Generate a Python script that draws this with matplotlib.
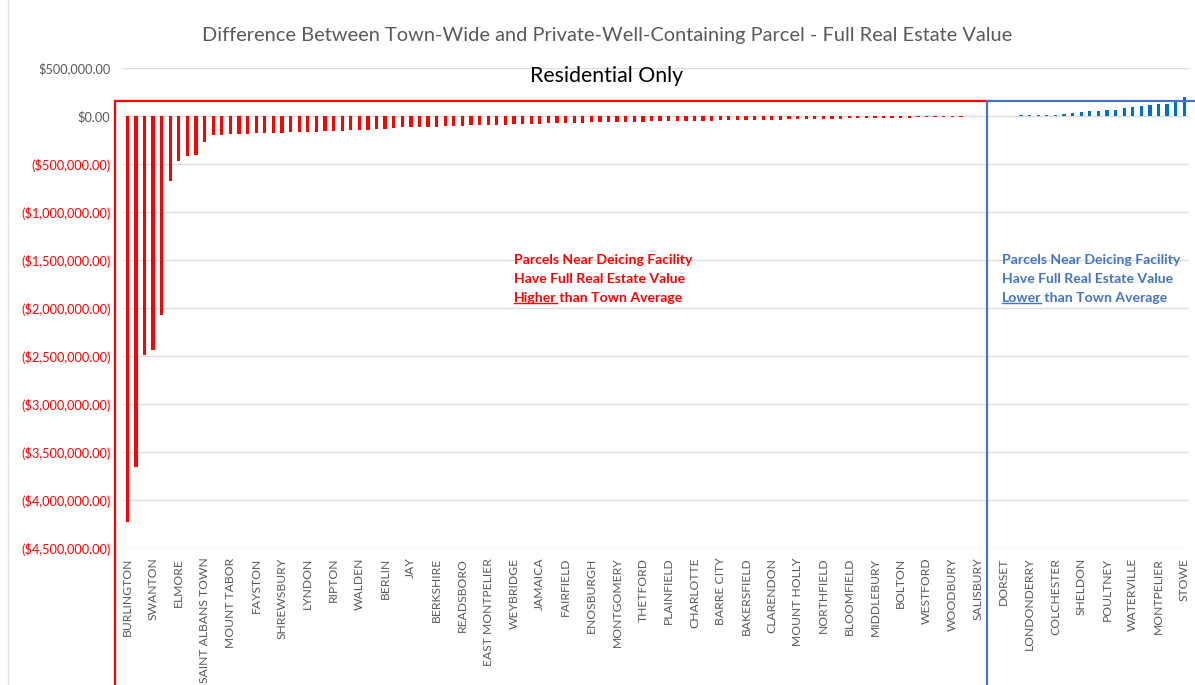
#!/usr/bin/env python3

import matplotlib
matplotlib.use('Agg')
from matplotlib import pyplot as plt
from matplotlib.lines import Line2D
from matplotlib.ticker import FuncFormatter, MultipleLocator


# town labels (Excel only shows every 3rd category)
towns_shown = ["BURLINGTON", "SWANTON", "ELMORE", "SAINT ALBANS TOWN", "MOUNT TABOR",
               "FAYSTON", "SHREWSBURY", "LYNDON", "RIPTON", "WALDEN", "BERLIN", "JAY",
               "BERKSHIRE", "READSBORO", "EAST MONTPELIER", "WEYBRIDGE", "JAMAICA",
               "FAIRFIELD", "ENOSBURGH", "MONTGOMERY", "THETFORD", "PLAINFIELD",
               "CHARLOTTE", "BARRE CITY", "BAKERSFIELD", "CLARENDON", "MOUNT HOLLY",
               "NORTHFIELD", "BLOOMFIELD", "MIDDLEBURY", "BOLTON", "WESTFORD",
               "WOODBURY", "SALISBURY", "DORSET", "LONDONDERRY", "COLCHESTER",
               "SHELDON", "POULTNEY", "WATERVILLE", "MONTPELIER", "STOWE"]

# parcel value minus town value, in thousands of dollars
higher_vals = [-4230, -3660, -2490, -2440, -2070, -674, -465, -413, -410, -270,
               -200, -195, -190, -187, -184, -180, -180, -173, -173, -170,
               -170, -165, -162, -159, -158, -152, -151, -149, -145, -139,
               -135, -125, -118, -117, -116, -111, -110, -107, -104, -103,
               -97, -96, -93, -90, -89, -86, -86, -83, -79, -78,
               -76, -73, -69, -69, -66, -65, -64, -62, -61, -59,
               -58, -57, -56, -52, -51, -50, -49, -48, -47, -46,
               -45, -44, -43, -42, -41, -39, -38, -36, -35, -33,
               -32, -30, -29, -27, -25, -24, -23, -21, -20, -18,
               -17, -16, -14, -13, -11, -10, -8, -7, -4, -2]
lower_vals = [1, 2, 3, 4, 6, 10, 11, 12, 15, 21, 28, 45, 49, 56, 62, 66,
              83, 90, 108, 115, 122, 125, 142, 201]

values = [v * 1000 for v in higher_vals + lower_vals]

W, H = 1195, 685
RED = '#FF0000'
BLUE = '#0070C0'
BOX_BLUE = '#4472C4'
GRAY = '#595959'

plt.rcParams['font.family'] = ['Lato', 'DejaVu Sans']


def px(x, y):
    return x / W, 1 - y / H


def money(v, pos):
    if v < 0:
        return '(${:,.2f})'.format(-v)
    return '${:,.2f}'.format(v)


fig = plt.figure(figsize=(W / 100, H / 100), dpi=100)
ax = fig.add_axes([123 / W, 0.2, (1188.6 - 123) / W, 480 / H])

xs = list(range(len(values)))
colors = [RED if v < 0 else BLUE for v in values]
ax.bar(xs, values, width=0.38, color=colors, zorder=3)

ax.set_xlim(-0.5, len(values) - 0.5)
ax.set_ylim(-4500000, 500000)
ax.yaxis.set_major_locator(MultipleLocator(500000))
ax.yaxis.set_major_formatter(FuncFormatter(money))
ax.grid(axis='y', color='#DDDDDD', linewidth=1.0, zorder=0)
for s in ax.spines.values():
    s.set_visible(False)
ax.tick_params(length=0)
ax.tick_params(axis='y', pad=9, labelsize=9.2)
ax.tick_params(axis='x', pad=7, labelsize=8.7, labelcolor=GRAY)

ax.set_xticks(xs[::3])
ax.set_xticklabels(towns_shown, rotation=90, va='top', ha='center')

fig.canvas.draw()
for lbl, tv in zip(ax.get_yticklabels(), ax.get_yticks()):
    lbl.set_color(RED if tv < 0 else GRAY)

# titles
fig.text(*px(607, 36), 'Difference Between Town-Wide and Private-Well-Containing Parcel - Full Real Estate Value',
         ha='center', va='center', fontsize=14.4, color=GRAY)
fig.text(*px(607, 76), 'Residential Only', ha='center', va='center', fontsize=15.3, color='black')

# group boxes
lw = 1.6
fig.add_artist(Line2D([115 / W, 115 / W], [1 - 101 / H, -0.02], color=RED, lw=lw))
fig.add_artist(Line2D([115 / W, 987 / W], [1 - 101 / H, 1 - 101 / H], color=RED, lw=lw))
fig.add_artist(Line2D([987 / W, 987 / W], [1 - 101 / H, -0.02], color=BOX_BLUE, lw=lw))
fig.add_artist(Line2D([987 / W, 1.01], [1 - 101 / H, 1 - 101 / H], color=BOX_BLUE, lw=lw))
# faint outer chart border
fig.add_artist(Line2D([8 / W, 8 / W], [0, 1], color='#E6E6E6', lw=1))


def note(x, color, word):
    fs = 10.1
    fig.text(*px(x, 260), 'Parcels Near Deicing Facility', color=color,
             fontsize=fs, weight='bold', va='center')
    fig.text(*px(x, 279), 'Have Full Real Estate Value', color=color,
             fontsize=fs, weight='bold', va='center')
    t = fig.text(*px(x, 298), word, color=color, fontsize=fs, weight='bold', va='center')
    fig.canvas.draw()
    bb = t.get_window_extent()
    fig.text(bb.x1 / W, 1 - 298 / H, ' than Town Average', color=color,
             fontsize=fs, weight='bold', va='center')
    uy = (bb.y0 + 1.5) / H
    fig.add_artist(Line2D([bb.x0 / W, bb.x1 / W], [uy, uy], color=color, lw=1.0))


note(514, RED, 'Higher')
note(1002, BOX_BLUE, 'Lower')

plt.savefig('out.png', dpi=100)
plt.close()
